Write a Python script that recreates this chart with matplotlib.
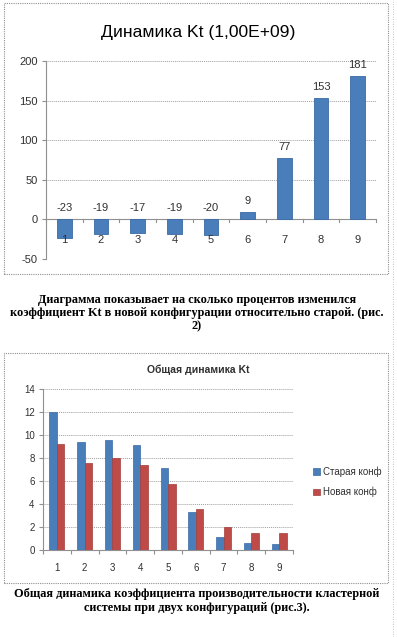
import matplotlib
matplotlib.use("Agg")
import matplotlib.pyplot as plt
from matplotlib.patches import Rectangle
from matplotlib.lines import Line2D
import numpy as np

# data
categories = ["1", "2", "3", "4", "5", "6", "7", "8", "9"]
dynamics_kt = [-23, -19, -17, -19, -20, 9, 77, 153, 181]
old_conf = [12.0, 9.35, 9.6, 9.1, 7.15, 3.3, 1.1, 0.6, 0.5]
new_conf = [9.2, 7.6, 8.0, 7.4, 5.7, 3.6, 2.0, 1.5, 1.45]
top_yticks = [-50, 0, 50, 100, 150, 200]
bottom_yticks = [0, 2, 4, 6, 8, 10, 12, 14]
legend_labels = ["Старая конф", "Новая конф"]

title_top = "Динамика Kt (1,00E+09)"
title_bottom = "Общая динамика Kt"
caption_top = ("Диаграмма показывает на сколько процентов изменился\n"
               "коэффициент Kt в новой конфигурации относительно старой. (рис.\n2)")
caption_bottom = ("Общая динамика коэффициента производительности кластерной\n"
                  "системы при двух конфигураций (рис.3).")

BLUE = "#4a7ebb"
RED = "#be4b48"
GRID = "#a0a0a0"
TXT = "#303030"
SANS = "Liberation Sans"
SERIF = "Liberation Serif"

W, H = 397, 637
fig = plt.figure(figsize=(W / 100, H / 100), dpi=100)
fig.patch.set_facecolor("white")


def fx(px):
    return px / W


def fy(py):
    return 1 - py / H


# chart frames
for (x0, y0, x1, y1) in [(4, 3, 388, 274), (4, 353, 388, 583)]:
    fig.patches.append(Rectangle((fx(x0), fy(y1)), fx(x1 - x0), fy(y0) - fy(y1),
                                 transform=fig.transFigure, fill=False,
                                 edgecolor="#909090", linewidth=0.8, linestyle=(0, (1, 1))))
# page edge on the right
fig.lines.append(Line2D([fx(393), fx(393)], [0, 1], transform=fig.transFigure,
                        color="#b0b0b0", linewidth=0.6, linestyle=(0, (1, 2))))

x = np.arange(1, len(categories) + 1)

# ---- top chart ----
ax1 = fig.add_axes([fx(46), fy(259), fx(376 - 46), fy(61) - fy(259)])
ax1.bar(x, dynamics_kt, width=0.4, color=BLUE, edgecolor="#3a6aa5", linewidth=0.6, zorder=3)
ax1.set_xlim(0.5, 9.5)
ax1.set_ylim(-50, 200)
ax1.set_yticks(top_yticks)
ax1.set_yticklabels([str(t) for t in top_yticks], fontsize=8, color=TXT, family=SANS)
ax1.yaxis.grid(True, color=GRID, linestyle=(0, (1, 1)), linewidth=0.7)
ax1.set_axisbelow(True)
for s in ["top", "right", "bottom"]:
    ax1.spines[s].set_visible(False)
ax1.spines["left"].set_color("#909090")
ax1.tick_params(axis="y", length=3, color="#909090", pad=3)
ax1.set_xticks([])
ax1.axhline(0, color="#909090", linewidth=0.8, zorder=2)
for xi in np.arange(0.5, 10.0, 1.0):
    ax1.plot([xi, xi], [0, -3], color="#909090", linewidth=0.8, clip_on=False, zorder=2)
for xi, lab, v in zip(x, categories, dynamics_kt):
    ax1.annotate(lab, (xi, 0), xytext=(0, -15), textcoords="offset points",
                 ha="center", va="center", fontsize=8, color=TXT, family=SANS)
    ax1.annotate(str(v), (xi, max(v, 0)), xytext=(0, 8), textcoords="offset points",
                 ha="center", va="center", fontsize=8, color=TXT, family=SANS)
fig.text(fx(198), fy(32), title_top, ha="center", va="center", fontsize=12.6,
         color="black", family=SANS)

fig.text(fx(197), fy(313), caption_top, ha="center", va="center", fontsize=8.8,
         fontweight="bold", family=SERIF, linespacing=1.15)

# ---- bottom chart ----
ax2 = fig.add_axes([fx(43), fy(550), fx(293 - 43), fy(389) - fy(550)])
bw = 0.27
ax2.bar(x - bw / 2, old_conf, width=bw, color=BLUE, edgecolor="#3a6aa5", linewidth=0.5,
        zorder=3, label=legend_labels[0])
ax2.bar(x + bw / 2, new_conf, width=bw, color=RED, edgecolor="#a33e3b", linewidth=0.5,
        zorder=3, label=legend_labels[1])
ax2.set_xlim(0.5, 9.5)
ax2.set_ylim(0, 14)
ax2.set_yticks(bottom_yticks)
ax2.set_yticklabels([str(t) for t in bottom_yticks], fontsize=7, color=TXT, family=SANS)
ax2.yaxis.grid(True, color=GRID, linestyle=(0, (1, 1)), linewidth=0.7)
ax2.set_axisbelow(True)
for s in ["top", "right"]:
    ax2.spines[s].set_visible(False)
ax2.spines["left"].set_color("#909090")
ax2.spines["bottom"].set_color("#909090")
ax2.tick_params(axis="y", length=3, color="#909090", pad=3)
ax2.set_xticks(np.arange(0.5, 10.0, 1.0))
ax2.set_xticklabels([])
ax2.tick_params(axis="x", length=3, color="#909090")
for xi, lab in zip(x, categories):
    ax2.annotate(lab, (xi, 0), xytext=(0, -13), textcoords="offset points",
                 ha="center", va="center", fontsize=7, color=TXT, family=SANS)
fig.text(fx(198), fy(370), title_bottom, ha="center", va="center", fontsize=7.5,
         fontweight="bold", color=TXT, family=SANS)
ax2.legend(loc="center left", bbox_to_anchor=(fx(304), fy(482)),
           bbox_transform=fig.transFigure, frameon=False,
           prop={"family": SANS, "size": 7}, handlelength=0.7, handleheight=0.7,
           handletextpad=0.4, labelspacing=1.0, labelcolor=TXT)

fig.text(fx(197), fy(601), caption_bottom, ha="center", va="center", fontsize=8.8,
         fontweight="bold", family=SERIF, linespacing=1.15)

fig.savefig("out.png", dpi=100)
